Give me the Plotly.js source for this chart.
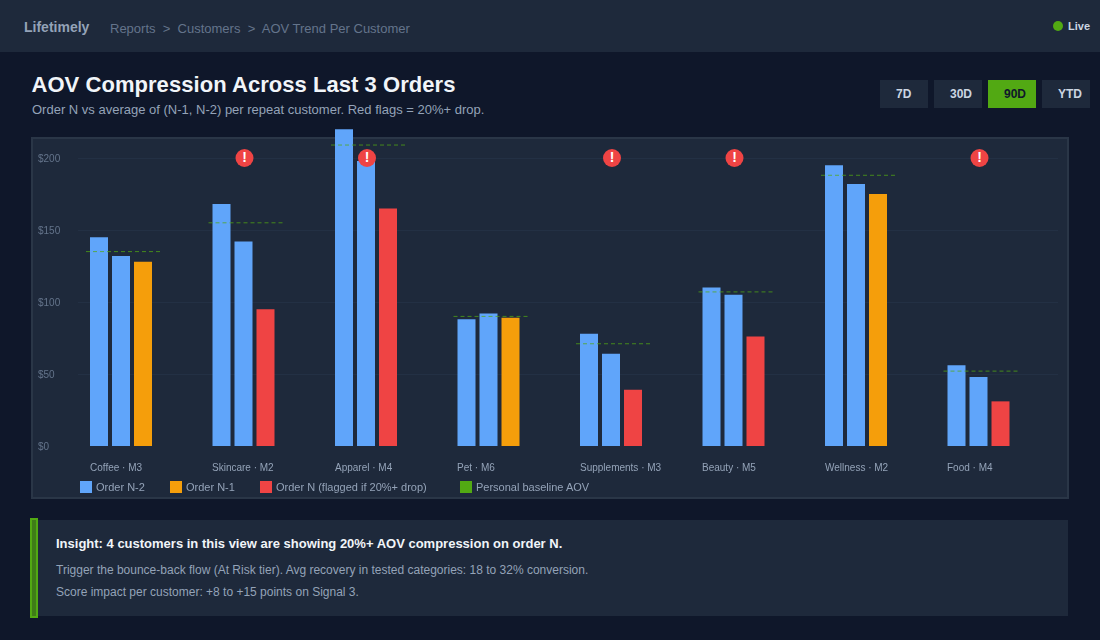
<!DOCTYPE html>
<html><head><meta charset="utf-8">
<script src="https://cdn.plot.ly/plotly-3.0.1.min.js"></script>
<style>
html,body{margin:0;padding:0;width:1100px;height:640px;overflow:hidden;background:#0f172a;font-family:"Liberation Sans",Arial,sans-serif}
.abs{position:absolute;white-space:nowrap}
#hdr{left:0;top:0;width:1100px;height:52px;background:#1e293b}
#panel{left:31px;top:137px;width:1034px;height:358px;background:#1e293b;border:2px solid #2a3647}
#insight{left:36px;top:520px;width:1032px;height:96px;background:#1e293b}
#bar{left:30px;top:518px;width:4px;height:96px;background:#3f7d18;border:2px solid #52a913}
.btn{top:80px;width:32px;height:28px;line-height:29px;padding-left:16px;background:#1e293b;color:#cbd5e1;font-size:12px;font-weight:700}
#chart{left:0;top:0;width:1100px;height:640px}
</style></head><body>
<div class="abs" id="hdr"></div>
<div class="abs" style="left:24px;top:19px;font-size:14px;font-weight:700;color:#94a3b8">Lifetimely</div>
<div class="abs" style="left:110px;top:21px;font-size:13px;color:#64748b">Reports&nbsp; &gt;&nbsp; Customers&nbsp; &gt;&nbsp; AOV Trend Per Customer</div>
<div class="abs" style="left:1053px;top:21px;width:10px;height:10px;border-radius:50%;background:#52a913"></div>
<div class="abs" style="left:1068px;top:19px;font-size:11px;font-weight:700;line-height:14px;color:#cbd5e1">Live</div>
<div class="abs" style="left:31.5px;top:72px;font-size:22px;font-weight:700;letter-spacing:0.05px;color:#f1f5f9">AOV Compression Across Last 3 Orders</div>
<div class="abs" style="left:32px;top:102px;font-size:13px;color:#94a3b8">Order N vs average of (N-1, N-2) per repeat customer. Red flags = 20%+ drop.</div>
<div class="abs btn" style="left:880px">7D</div>
<div class="abs btn" style="left:934px">30D</div>
<div class="abs btn" style="left:988px;background:#52a913;color:#0f172a">90D</div>
<div class="abs btn" style="left:1042px">YTD</div>
<div class="abs" id="panel"></div>
<div class="abs" id="insight"></div>
<div class="abs" id="bar"></div>
<div class="abs" style="left:56px;top:536px;font-size:13px;font-weight:700;color:#f1f5f9">Insight: 4 customers in this view are showing 20%+ AOV compression on order N.</div>
<div class="abs" style="left:56px;top:563px;font-size:12px;color:#94a3b8">Trigger the bounce-back flow (At Risk tier). Avg recovery in tested categories: 18 to 32% conversion.</div>
<div class="abs" style="left:56px;top:585px;font-size:12px;color:#94a3b8">Score impact per customer: +8 to +15 points on Signal 3.</div>
<div class="abs" id="chart"></div>
<script>
const categories=["Coffee · M3","Skincare · M2","Apparel · M4","Pet · M6","Supplements · M3","Beauty · M5","Wellness · M2","Food · M4"];
const orderN2=[145,168,220,88,78,110,195,56];
const orderN1=[132,142,198,92,64,105,182,48];
const orderN=[128,95,165,89,39,76,175,31];
const flagged=[false,true,true,false,true,true,false,true];
const baseline=[135,155,209,90,71,107,188,52];
const yTicks=[0,50,100,150,200];
const legendNames=["Order N-2","Order N-1","Order N (flagged if 20%+ drop)","Personal baseline AOV"];
const BLUE="#60a5fa",ORANGE="#f59e0b",RED="#ef4444",GREEN="#52a913";
const legendColors=[BLUE,ORANGE,RED,GREEN];
const legendX=[80,170,260,460];

const idx=categories.map((_,i)=>i);
const L=78,R=1058,T=120,B=446,unit=122.5,cx0=121;
const barW=18/unit, step=22/unit;
const bar=(name,y,color,k)=>({type:"bar",name,x:idx,y,width:barW,offset:-barW/2+(k-1)*step,marker:{color,line:{width:0}},hoverinfo:"y"});
const traces=[
 bar(legendNames[0],orderN2,BLUE,0),
 bar(legendNames[1],orderN1,BLUE,1),
 bar(legendNames[2],orderN,orderN.map((_,i)=>flagged[i]?RED:ORANGE),2)
];
const bx=[],by=[];
idx.forEach(i=>{bx.push(i-35/unit,i+39/unit,null);by.push(baseline[i],baseline[i],null)});
traces.push({type:"scatter",mode:"lines",name:legendNames[3],x:bx,y:by,connectgaps:false,line:{color:GREEN,width:1,dash:"4px,3px"},opacity:0.75,hoverinfo:"skip"});
const fi=idx.filter(i=>flagged[i]);
traces.push({type:"scatter",mode:"markers+text",x:fi.map(i=>i+1/unit),y:fi.map(()=>200),text:fi.map(()=>"!"),textposition:"middle center",
 textfont:{family:"Liberation Sans",size:14,color:"#fff",weight:700},marker:{size:18,color:RED},cliponaxis:false,hoverinfo:"skip"});

const ann=[],shapes=[];
yTicks.forEach(v=>ann.push({xref:"paper",yref:"y",x:(36-L)/(R-L),y:v,xanchor:"left",yanchor:"middle",showarrow:false,text:"$"+v,font:{size:10,color:"#64748b"}}));
categories.forEach((c,i)=>ann.push({xref:"x",yref:"paper",x:i-33.4/unit,y:(B-467)/(B-T),xanchor:"left",yanchor:"middle",showarrow:false,text:c,font:{size:10,color:"#94a3b8"}}));
legendNames.forEach((n,i)=>{
 const x0=(legendX[i]-L)/(R-L),x1=(legendX[i]+12-L)/(R-L);
 shapes.push({type:"rect",xref:"paper",yref:"paper",x0,x1,y0:(B-493)/(B-T),y1:(B-481)/(B-T),fillcolor:legendColors[i],line:{width:0}});
 ann.push({xref:"paper",yref:"paper",x:(legendX[i]+14-L)/(R-L),y:(B-487)/(B-T),xanchor:"left",yanchor:"middle",showarrow:false,text:n,font:{size:11,color:"#94a3b8"}});
});
Plotly.newPlot("chart",traces,{
 width:1100,height:640,paper_bgcolor:"rgba(0,0,0,0)",plot_bgcolor:"rgba(0,0,0,0)",
 font:{family:"Liberation Sans, Arial, sans-serif"},showlegend:false,
 margin:{l:L,r:1100-R,t:T,b:640-B,pad:0},
 xaxis:{type:"linear",range:[(L-cx0)/unit,(R-cx0)/unit],showgrid:false,zeroline:false,showticklabels:false,ticks:""},
 yaxis:{range:[0,(B-T)/1.44],tickvals:yTicks,showticklabels:false,gridcolor:"#233044",gridwidth:1,zeroline:false,ticks:""},
 annotations:ann,shapes
},{displayModeBar:false,staticPlot:true});
</script>
</body></html>
